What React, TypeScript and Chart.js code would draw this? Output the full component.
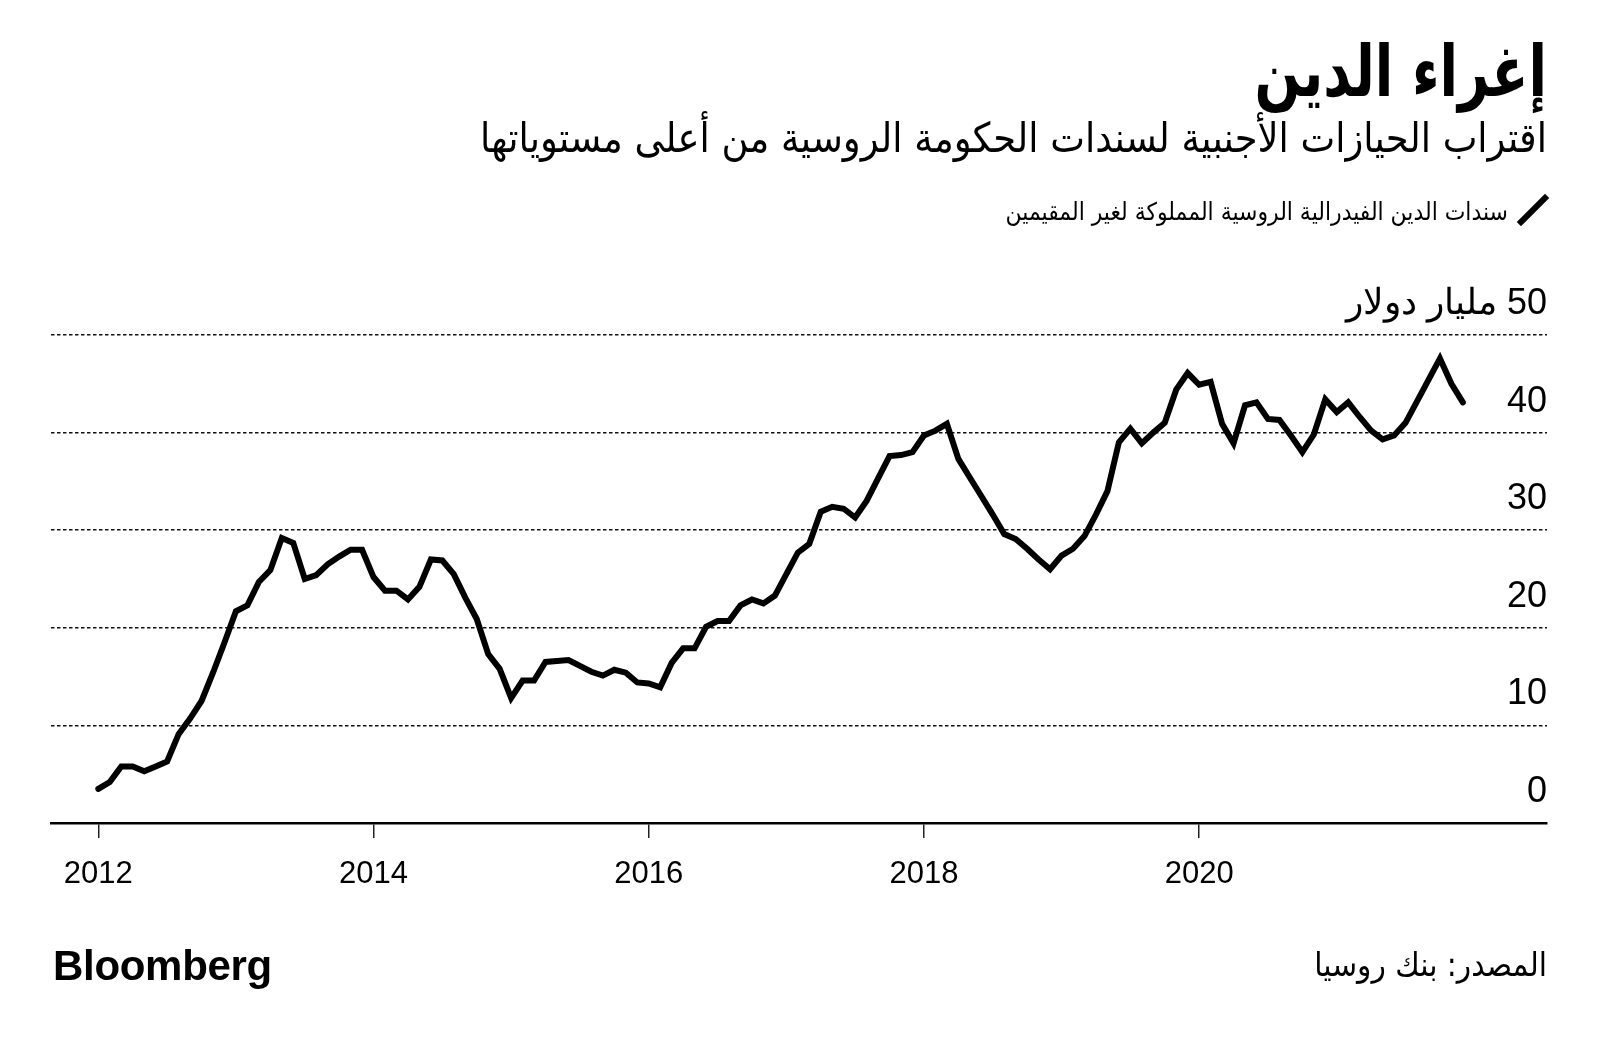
import React, { useEffect, useRef } from "react";
import { Chart, registerables } from "chart.js";

Chart.register(...registerables);

// ---- Data (monthly, billions of USD, starting January 2012) ----
const START_YEAR = 2012;
const holdings: number[] = [
  3.5, 4.2, 5.8, 5.8, 5.3, 5.8, 6.3, 9.1, 10.7, 12.5, 15.4, 18.5,
  21.7, 22.3, 24.7, 25.9, 29.2, 28.7, 25.0, 25.4, 26.5, 27.3, 28.0, 28.0,
  25.2, 23.8, 23.8, 22.9, 24.2, 27.0, 26.9, 25.5, 23.1, 20.9, 17.3, 15.8,
  12.8, 14.6, 14.6, 16.5, 16.6, 16.7, 16.1, 15.5, 15.1, 15.7, 15.4, 14.4,
  14.3, 13.9, 16.4, 17.9, 17.9, 20.1, 20.7, 20.7, 22.3, 22.9, 22.5, 23.3,
  25.5, 27.7, 28.6, 31.9, 32.4, 32.2, 31.3, 33.0, 35.3, 37.6, 37.7, 38.0,
  39.7, 40.2, 40.9, 37.3, 35.4, 33.5, 31.6, 29.6, 29.1, 28.1, 27.0, 26.0,
  27.4, 28.1, 29.4, 31.6, 34.0, 39.0, 40.4, 38.9, 40.0, 41.0, 44.4, 46.1,
  44.9, 45.2, 40.9, 38.9, 42.8, 43.1, 41.4, 41.3, 39.7, 38.0, 39.8, 43.4,
  42.1, 43.1, 41.6, 40.2, 39.3, 39.7, 41.0, 43.2, 45.4, 47.6, 45.0, 43.1,
];
const xTickYears: number[] = [2012, 2014, 2016, 2018, 2020];
const yTickValues: number[] = [0, 10, 20, 30, 40, 50];
const yUnitLabel = "مليار دولار";

const TITLE = "إغراء الدين";
const SUBTITLE = "اقتراب الحيازات الأجنبية لسندات الحكومة الروسية من أعلى مستوياتها";
const LEGEND_LABEL = "سندات الدين الفيدرالية الروسية المملوكة لغير المقيمين";
const SOURCE = "المصدر: بنك روسيا";
const BRAND = "Bloomberg";

const ARABIC_FONT = '"DejaVu Sans Condensed", "DejaVu Sans", sans-serif';
const LATIN_FONT = '"Liberation Sans", Arial, sans-serif';

export default function App() {
  const canvasRef = useRef<HTMLCanvasElement | null>(null);

  useEffect(() => {
    const canvas = canvasRef.current;
    if (!canvas) return;
    const points = holdings.map((v, i) => ({ x: START_YEAR + i / 12, y: v }));
    const chart = new Chart(canvas, {
      type: "line",
      data: {
        datasets: [
          {
            label: LEGEND_LABEL,
            data: points,
            borderColor: "#000",
            borderWidth: 6,
            pointRadius: 0,
            borderJoinStyle: "miter",
            borderCapStyle: "round",
            tension: 0,
            fill: false,
          },
        ],
      },
      options: {
        animation: false,
        responsive: false,
        maintainAspectRatio: false,
        layout: { padding: { left: 51, right: 53, top: 335, bottom: 161 } },
        plugins: { legend: { display: false }, tooltip: { enabled: false } },
        scales: {
          x: {
            type: "linear",
            min: 2011.656,
            max: 2022.528,
            afterBuildTicks: (s: any) => {
              s.ticks = xTickYears.map((v) => ({ value: v }));
            },
            afterFit: (s: any) => {
              s.height = 60;
            },
            grid: {
              display: true,
              drawOnChartArea: false,
              drawTicks: true,
              tickLength: 15,
              color: "#222",
              lineWidth: 1.5,
            },
            border: { display: true, color: "#000", width: 2.5 },
            ticks: {
              color: "#000",
              font: { family: LATIN_FONT, size: 31 },
              padding: 18,
              maxRotation: 0,
              autoSkip: false,
              callback: (v: any) => String(v),
            },
          },
          y: {
            type: "linear",
            position: "right",
            min: 0,
            max: 50,
            afterBuildTicks: (s: any) => {
              s.ticks = yTickValues.map((v) => ({ value: v }));
            },
            afterFit: (s: any) => {
              s.width = 0;
            },
            grid: {
              drawTicks: false,
              lineWidth: 1.5,
              color: (ctx: any) =>
                ctx.tick && ctx.tick.value === 0 ? "rgba(0,0,0,0)" : "#111",
            },
            border: { display: false, dash: [3.5, 2.5] },
            ticks: {
              mirror: true,
              padding: 0,
              labelOffset: -31,
              color: "#000",
              font: { family: LATIN_FONT, size: 36 },
              callback: (v: any) =>
                v === 50 ? yUnitLabel + "\u200E 50" : String(v),
            },
          },
        },
      },
    });
    return () => chart.destroy();
  }, []);

  const arabicBase: React.CSSProperties = {
    position: "absolute",
    direction: "rtl",
    textAlign: "right",
    whiteSpace: "nowrap",
    fontFamily: ARABIC_FONT,
    color: "#000",
    lineHeight: 1,
  };

  return (
    <div
      style={{
        position: "absolute",
        left: 0,
        top: 0,
        width: 1600,
        height: 1044,
        background: "#fff",
        overflow: "hidden",
      }}
    >
      <canvas
        ref={canvasRef}
        width={1600}
        height={1044}
        style={{ position: "absolute", left: 0, top: 0, width: 1600, height: 1044 }}
      />
      <div
        style={{
          ...arabicBase,
          right: 53,
          top: 36,
          fontSize: 60,
          fontWeight: 700,
          transform: "scaleY(1.18)",
          transformOrigin: "right top",
        }}
      >
        {TITLE}
      </div>
      <div style={{ ...arabicBase, right: 53, top: 118, fontSize: 41 }}>{SUBTITLE}</div>
      <div style={{ ...arabicBase, right: 92, top: 200, fontSize: 24.4 }}>{LEGEND_LABEL}</div>
      <div
        style={{
          position: "absolute",
          left: 1530,
          top: 190,
          width: 6,
          height: 40,
          background: "#000",
          transform: "rotate(45deg)",
        }}
      />
      <div
        style={{
          position: "absolute",
          left: 53,
          top: 945,
          fontFamily: LATIN_FONT,
          fontWeight: 700,
          fontSize: 42,
          letterSpacing: -0.3,
          lineHeight: 1,
          color: "#000",
        }}
      >
        {BRAND}
      </div>
      <div style={{ ...arabicBase, right: 53, top: 948, fontSize: 33 }}>{SOURCE}</div>
    </div>
  );
}
